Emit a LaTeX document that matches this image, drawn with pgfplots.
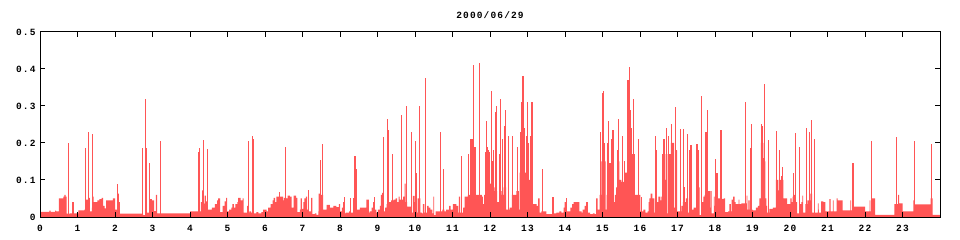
\documentclass[border=0pt]{standalone}
\usepackage{fontspec}
\setmainfont{Liberation Mono}
\newfontfamily\gfont{Liberation Mono}[LetterSpace=12]
\usepackage{pgfplots}
\pgfplotsset{compat=1.18}
\definecolor{barred}{RGB}{255,85,85}
\begin{document}
\begin{tikzpicture}
\useasboundingbox (-40bp,-23bp) rectangle (920bp,217bp);
\begin{axis}[
  at={(0,0)}, anchor=south west,
  scale only axis, width=900bp, height=185bp,
  xmin=0, xmax=24, ymin=0, ymax=0.5,
  xtick={0,1,...,23},
  xticklabels={0,1,2,3,4,5,6,7,8,9,10,11,12,13,14,15,16,17,18,19,20,21,22,23},
  ytick={0,0.1,0.2,0.3,0.4,0.5},
  yticklabels={0,0.1,0.2,0.3,0.4,0.5},
  tick align=inside, major tick length=5bp,
  tick pos=both,
  axis line style={line width=1bp, black},
  every tick/.style={line width=1bp, black},
  tick label style={font=\gfont\bfseries\fontsize{9.5bp}{11bp}\selectfont},
  xticklabel style={yshift=-5bp},
  yticklabel style={xshift=-1bp},
  /pgf/number format/assume math mode=true,
  title={2000/06/29},
  title style={at={(0.5,1)}, anchor=base, yshift=8bp, font=\gfont\bfseries\fontsize{9.5bp}{11bp}\selectfont},
  axis on top,
  clip=true,
]
\addplot[const plot, fill=barred, draw=none] coordinates {
(0,0.014) (0.25,0.017) (0.28,0.014) (0.4,0.017) (0.43,0.015) (0.506,0.05) (0.62,0.055) (0.65,0.06) (0.684,0.055) (0.71,0.009) (0.8,0.01) (1.02,0.018) (1.18,0.02) (1.225,0.047) (1.305,0.052) (1.33,0.015) (1.385,0.025) (1.41,0.055) (1.43,0.04) (1.53,0.045) (1.58,0.048) (1.64,0.052) (1.68,0.03) (1.72,0.023) (1.76,0.045) (1.94,0.05) (2.0,0.02) (2.08,0.063) (2.105,0.04) (2.13,0.009) (2.75,0.005) (2.85,0.012) (2.93,0.048) (2.98,0.045) (3.04,0.016) (3.09,0.06) (3.12,0.01) (4.0,0.015) (4.29,0.04) (4.32,0.072) (4.34,0.036) (4.39,0.058) (4.42,0.042) (4.45,0.02) (4.58,0.025) (4.66,0.035) (4.72,0.045) (4.75,0.05) (4.8,0.013) (4.87,0.03) (4.92,0.042) (4.96,0.052) (4.99,0.015) (5.04,0.02) (5.1,0.025) (5.13,0.035) (5.17,0.025) (5.21,0.035) (5.26,0.04) (5.28,0.052) (5.35,0.045) (5.4,0.05) (5.43,0.012) (5.52,0.03) (5.54,0.012) (5.58,0.015) (5.63,0.012) (5.7,0.01) (5.77,0.013) (5.82,0.01) (5.9,0.013) (5.95,0.02) (6.04,0.015) (6.08,0.025) (6.15,0.035) (6.2,0.045) (6.23,0.052) (6.27,0.04) (6.3,0.055) (6.37,0.02) (6.39,0.055) (6.48,0.045) (6.5,0.052) (6.57,0.05) (6.6,0.058) (6.66,0.055) (6.71,0.025) (6.76,0.058) (6.83,0.052) (6.86,0.013) (6.93,0.02) (6.95,0.05) (6.98,0.022) (7.02,0.04) (7.05,0.05) (7.09,0.055) (7.12,0.02) (7.17,0.015) (7.23,0.052) (7.26,0.008) (7.33,0.01) (7.37,0.006) (7.42,0.015) (7.43,0.063) (7.46,0.06) (7.55,0.02) (7.64,0.033) (7.73,0.025) (7.82,0.03) (7.9,0.027) (7.97,0.035) (8.0,0.012) (8.01,0.015) (8.05,0.025) (8.08,0.04) (8.12,0.01) (8.15,0.012) (8.24,0.015) (8.28,0.012) (8.37,0.012) (8.44,0.02) (8.53,0.025) (8.7,0.047) (8.77,0.012) (8.79,0.015) (8.84,0.025) (8.88,0.04) (8.93,0.02) (8.97,0.012) (9.01,0.02) (9.06,0.03) (9.09,0.06) (9.12,0.065) (9.17,0.015) (9.2,0.025) (9.24,0.035) (9.31,0.04) (9.36,0.045) (9.43,0.047) (9.48,0.05) (9.52,0.04) (9.56,0.055) (9.59,0.047) (9.68,0.055) (9.72,0.09) (9.75,0.04) (9.79,0.028) (9.91,0.012) (9.94,0.057) (9.99,0.04) (10.05,0.012) (10.07,0.05) (10.14,0.012) (10.18,0.01) (10.21,0.035) (10.25,0.012) (10.32,0.03) (10.36,0.025) (10.41,0.02) (10.46,0.01) (10.49,0.055) (10.51,0.005) (10.55,0.015) (10.69,0.015) (10.73,0.02) (10.78,0.015) (10.83,0.02) (10.91,0.03) (10.95,0.02) (11.01,0.035) (11.1,0.03) (11.15,0.012) (11.17,0.055) (11.2,0.012) (11.28,0.025) (11.32,0.055) (11.41,0.06) (11.78,0.055) (11.81,0.035) (11.84,0.06) (11.94,0.07) (12.0,0.09) (12.08,0.08) (12.12,0.07) (12.19,0.04) (12.25,0.07) (12.31,0.06) (12.36,0.08) (12.43,0.02) (12.52,0.025) (12.58,0.06) (12.7,0.07) (12.77,0.02) (12.79,0.12) (12.97,0.1) (13.06,0.02) (13.15,0.035) (13.24,0.03) (13.28,0.05) (13.32,0.012) (13.37,0.015) (13.43,0.015) (13.5,0.008) (13.7,0.01) (13.77,0.012) (13.85,0.015) (13.9,0.012) (13.96,0.025) (13.99,0.04) (14.05,0.015) (14.14,0.025) (14.19,0.035) (14.23,0.04) (14.38,0.015) (14.44,0.012) (14.47,0.02) (14.52,0.03) (14.56,0.04) (14.61,0.012) (14.67,0.008) (14.74,0.01) (14.79,0.008) (14.83,0.05) (14.87,0.02) (14.92,0.06) (14.97,0.15) (15.08,0.02) (15.11,0.06) (15.19,0.05) (15.29,0.04) (15.33,0.06) (15.36,0.08) (15.4,0.15) (15.45,0.1) (15.5,0.095) (15.58,0.12) (15.65,0.11) (15.67,0.2) (15.77,0.17) (15.85,0.06) (16.01,0.015) (16.09,0.02) (16.14,0.012) (16.2,0.015) (16.23,0.04) (16.25,0.05) (16.28,0.063) (16.33,0.05) (16.38,0.012) (16.4,0.1) (16.45,0.04) (16.49,0.055) (16.54,0.045) (16.57,0.055) (16.6,0.1) (16.68,0.17) (16.72,0.01) (16.74,0.17) (16.82,0.2) (16.91,0.025) (16.94,0.18) (16.99,0.015) (17.1,0.03) (17.14,0.04) (17.22,0.05) (17.28,0.012) (17.31,0.015) (17.36,0.02) (17.43,0.025) (17.5,0.028) (17.57,0.08) (17.59,0.005) (17.65,0.04) (17.69,0.055) (17.72,0.06) (17.81,0.07) (17.87,0.025) (17.88,0.07) (17.91,0.01) (17.97,0.055) (17.99,0.03) (18.08,0.05) (18.19,0.048) (18.23,0.05) (18.27,0.013) (18.35,0.015) (18.38,0.035) (18.42,0.015) (18.44,0.047) (18.48,0.055) (18.52,0.04) (18.55,0.035) (18.63,0.047) (18.65,0.035) (18.7,0.037) (18.84,0.058) (18.86,0.02) (18.89,0.045) (18.92,0.02) (19.0,0.018) (19.09,0.025) (19.14,0.03) (19.18,0.05) (19.22,0.2) (19.29,0.15) (19.34,0.05) (19.37,0.03) (19.39,0.012) (19.45,0.022) (19.54,0.025) (19.62,0.1) (19.69,0.072) (19.72,0.1) (19.82,0.05) (19.92,0.035) (20.01,0.05) (20.04,0.04) (20.07,0.055) (20.11,0.06) (20.13,0.04) (20.19,0.01) (20.26,0.035) (20.3,0.04) (20.33,0.058) (20.35,0.012) (20.41,0.035) (20.46,0.045) (20.54,0.063) (20.59,0.012) (20.74,0.037) (20.76,0.02) (20.77,0.012) (20.83,0.042) (20.89,0.04) (20.94,0.015) (21.05,0.048) (21.08,0.015) (21.14,0.045) (21.16,0.015) (21.24,0.05) (21.27,0.045) (21.4,0.018) (21.61,0.045) (21.63,0.018) (21.69,0.028) (22.0,0.015) (22.12,0.045) (22.14,0.015) (22.19,0.05) (22.27,0.006) (22.78,0.035) (22.88,0.06) (22.91,0.037) (23.0,0.015) (23.29,0.045) (23.32,0.034) (23.75,0.05) (23.8,0.006) (24,0.006)
} \closedcycle;
\addplot[ycomb, draw=barred, line width=1.1bp, mark=none] coordinates {
(0.77,0.2) (0.88,0.04) (1.21,0.187) (1.29,0.23) (1.39,0.225) (2.06,0.09) (2.73,0.187) (2.81,0.32) (2.835,0.187) (2.91,0.147) (3.1,0.06) (3.21,0.206) (4.24,0.177) (4.265,0.187) (4.355,0.208) (4.46,0.185) (5.55,0.206) (5.66,0.22) (5.685,0.21) (6.39,0.068) (6.54,0.19) (7.15,0.074) (7.487,0.153) (7.522,0.197) (8.11,0.055) (8.29,0.05) (8.35,0.05) (8.40,0.166) (8.43,0.13) (8.93,0.053) (9.15,0.215) (9.26,0.265) (9.29,0.235) (9.40,0.17) (9.64,0.277) (9.77,0.3) (9.90,0.23) (10.01,0.205) (10.04,0.12) (10.11,0.3) (10.13,0.23) (10.27,0.2) (10.29,0.375) (10.67,0.23) (10.76,0.13) (11.23,0.165) (11.25,0.11) (11.42,0.17) (11.47,0.21) (11.52,0.21) (11.55,0.15) (11.57,0.41) (11.60,0.19) (11.73,0.415) (11.87,0.175) (11.90,0.26) (11.93,0.19) (11.95,0.18) (11.99,0.175) (12.04,0.34) (12.07,0.15) (12.10,0.18) (12.14,0.285) (12.18,0.3) (12.26,0.17) (12.29,0.32) (12.34,0.21) (12.38,0.245) (12.42,0.29) (12.50,0.22) (12.59,0.22) (12.74,0.19) (12.81,0.23) (12.84,0.31) (12.88,0.38) (12.90,0.245) (12.93,0.24) (12.97,0.22) (12.99,0.31) (13.03,0.2) (13.08,0.22) (13.12,0.31) (13.41,0.13) (13.68,0.055) (14.03,0.05) (14.95,0.23) (14.99,0.335) (15.03,0.34) (15.06,0.2) (15.13,0.2) (15.17,0.26) (15.20,0.145) (15.25,0.21) (15.28,0.235) (15.39,0.18) (15.43,0.265) (15.54,0.22) (15.59,0.15) (15.68,0.37) (15.70,0.29) (15.73,0.405) (15.75,0.29) (15.78,0.24) (15.82,0.32) (15.84,0.17) (15.97,0.21) (16.04,0.055) (16.41,0.22) (16.44,0.18) (16.61,0.17) (16.63,0.21) (16.66,0.21) (16.70,0.24) (16.76,0.22) (16.79,0.17) (16.83,0.25) (16.86,0.2) (16.89,0.19) (16.95,0.297) (16.98,0.18) (17.09,0.238) (17.17,0.238) (17.19,0.08) (17.26,0.225) (17.33,0.18) (17.36,0.195) (17.52,0.198) (17.55,0.18) (17.65,0.327) (17.76,0.23) (17.79,0.288) (18.02,0.158) (18.05,0.12) (18.07,0.118) (18.16,0.235) (18.82,0.31) (18.94,0.187) (18.98,0.25) (19.23,0.23) (19.25,0.25) (19.27,0.245) (19.30,0.16) (19.32,0.36) (19.43,0.208) (19.63,0.233) (19.64,0.11) (19.67,0.1) (19.72,0.18) (19.75,0.1) (19.78,0.11) (19.80,0.135) (20.10,0.12) (20.15,0.226) (20.26,0.188) (20.44,0.24) (20.53,0.23) (20.58,0.262) (20.66,0.21) (21.68,0.147) (22.18,0.205) (22.85,0.215) (23.32,0.206) (23.78,0.198)
};
\end{axis}
\end{tikzpicture}
\end{document}
